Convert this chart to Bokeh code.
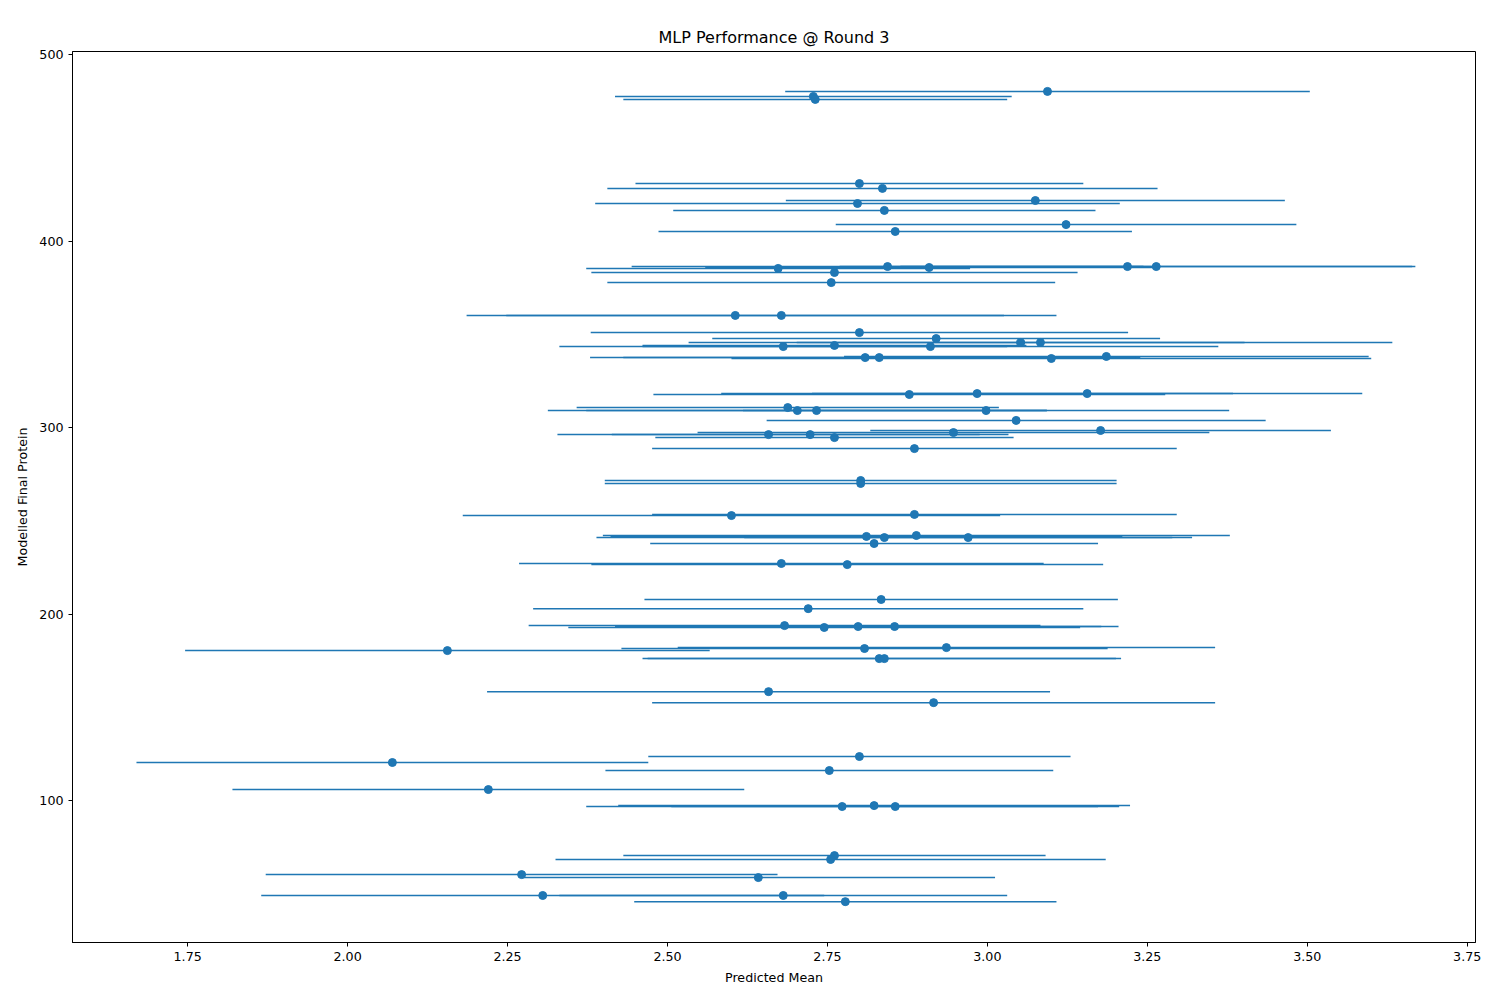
import numpy as np
from bokeh.plotting import figure
from bokeh.models import FixedTicker, NumeralTickFormatter, Range1d
from bokeh.embed import file_html
from bokeh.resources import INLINE

# predicted mean, modelled final protein, error half-width
pred_mean = [3.094, 2.728, 2.731, 2.800, 2.836, 3.075, 2.797, 2.839, 3.123, 2.856,
             2.673, 2.844, 2.909, 3.219, 3.264, 2.761, 2.756, 2.606, 2.678, 2.800,
             2.920, 3.052, 3.083, 2.761, 2.911, 2.681, 3.186, 3.100, 2.809, 2.831,
             2.984, 3.156, 2.878, 2.688, 2.703, 2.733, 2.998, 3.045, 3.177, 2.947,
             2.658, 2.723, 2.761, 2.886, 2.802, 2.802, 2.600, 2.886, 2.811, 2.839,
             2.889, 2.970, 2.823, 2.678, 2.781, 2.834, 2.720, 2.683, 2.745, 2.798,
             2.855, 2.156, 2.936, 2.808, 2.831, 2.839, 2.658, 2.916, 2.800, 2.070,
             2.753, 2.220, 2.773, 2.823, 2.856, 2.761, 2.755, 2.272, 2.642, 2.305,
             2.681, 2.778]
protein = [480.2, 477.5, 475.9, 430.8, 428.2, 421.7, 420.1, 416.4, 408.8, 405.1,
           385.3, 386.3, 385.8, 386.3, 386.3, 383.1, 377.7, 360.1, 360.1, 350.9,
           347.7, 345.6, 345.6, 344.0, 343.4, 343.4, 338.1, 337.0, 337.5, 337.5,
           318.2, 318.2, 317.7, 310.7, 309.1, 309.1, 309.1, 303.8, 298.4, 297.3,
           296.2, 296.2, 294.6, 288.7, 271.6, 270.0, 252.8, 253.4, 241.6, 241.0,
           242.1, 241.0, 237.8, 227.1, 226.5, 207.8, 202.9, 193.8, 192.8, 193.3,
           193.3, 180.4, 182.0, 181.5, 176.1, 176.1, 158.4, 152.5, 123.6, 120.4,
           116.1, 105.9, 96.8, 97.3, 96.8, 70.5, 68.4, 60.3, 58.7, 49.1,
           49.1, 45.8]
xerr = [0.41, 0.31, 0.30, 0.35, 0.43, 0.39, 0.41, 0.33, 0.36, 0.37,
        0.30, 0.40, 0.35, 0.45, 0.40, 0.38, 0.35, 0.42, 0.43, 0.42,
        0.35, 0.35, 0.55, 0.30, 0.45, 0.35, 0.41, 0.50, 0.43, 0.40,
        0.40, 0.43, 0.40, 0.33, 0.39, 0.36, 0.38, 0.39, 0.36, 0.40,
        0.33, 0.31, 0.28, 0.41, 0.40, 0.40, 0.42, 0.41, 0.40, 0.45,
        0.49, 0.35, 0.35, 0.41, 0.40, 0.37, 0.43, 0.40, 0.40, 0.38,
        0.35, 0.41, 0.42, 0.38, 0.37, 0.37, 0.44, 0.44, 0.33, 0.40,
        0.35, 0.40, 0.40, 0.40, 0.35, 0.33, 0.43, 0.40, 0.37, 0.44,
        0.35, 0.33]

x = np.array(pred_mean)
y = np.array(protein)
e = np.array(xerr)

blue = "#1f77b4"
p = figure(width=1490, height=990, output_backend="svg", toolbar_location=None,
           title="MLP Performance @ Round 3",
           x_range=Range1d(1.570, 3.763), y_range=Range1d(23.9, 501.6),
           min_border_left=72, min_border_right=15, min_border_top=51, min_border_bottom=48)
p.title.align = "center"
p.title.text_font = "DejaVu Sans"
p.title.text_font_size = "12pt"
p.title.text_font_style = "normal"
p.title.text_color = "black"

p.segment(x - e, y, x + e, y, line_color=blue, line_width=1.5)
p.scatter(x, y, size=8, color=blue)

p.xgrid.visible = False
p.ygrid.visible = False
p.outline_line_color = "black"
p.xaxis.ticker = FixedTicker(ticks=[1.75, 2.0, 2.25, 2.5, 2.75, 3.0, 3.25, 3.5, 3.75])
p.xaxis.formatter = NumeralTickFormatter(format="0.00")
p.yaxis.ticker = FixedTicker(ticks=[100, 200, 300, 400, 500])
p.xaxis.axis_label = "Predicted Mean"
p.yaxis.axis_label = "Modelled Final Protein"
for ax in (p.xaxis, p.yaxis):
    ax.minor_tick_line_color = None
    ax.major_tick_in = 0
    ax.major_tick_out = 4
    ax.major_label_text_font = "DejaVu Sans"
    ax.major_label_text_font_size = "9.5pt"
    ax.major_label_text_color = "black"
    ax.axis_label_text_font = "DejaVu Sans"
    ax.axis_label_text_font_size = "9.5pt"
    ax.axis_label_text_font_style = "normal"
    ax.axis_label_text_color = "black"
    ax.axis_label_standoff = 6

open("out.html", "w").write(file_html(p, INLINE))
